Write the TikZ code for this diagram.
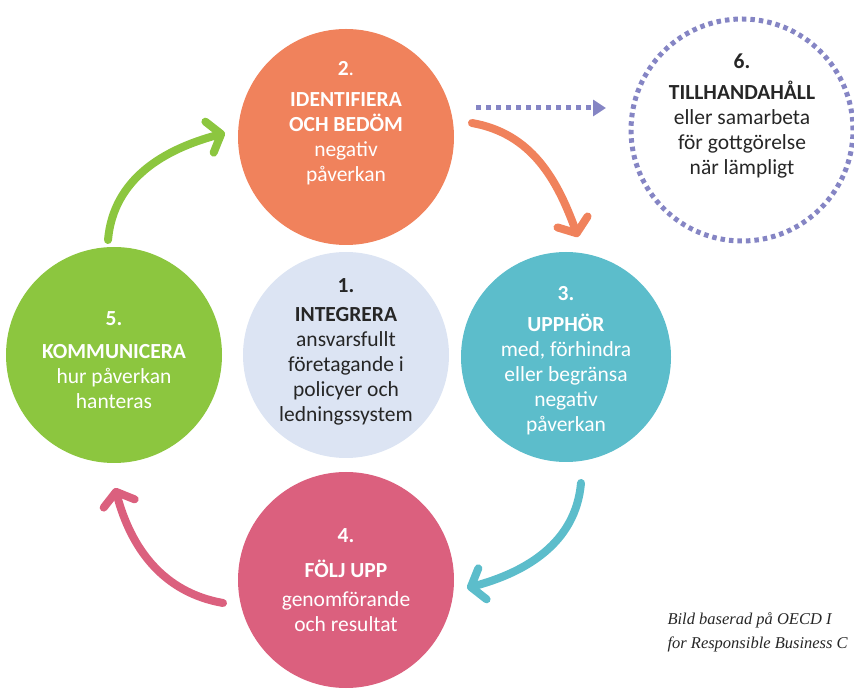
\documentclass[tikz,border=0pt]{standalone}
\usepackage{fontspec}
\setmainfont{Carlito}
\newfontfamily\notefont{Liberation Serif}
\usetikzlibrary{arrows.meta}
\definecolor{orangeC}{HTML}{F0825C}
\definecolor{blueC}{HTML}{DCE4F3}
\definecolor{tealC}{HTML}{5CBDCB}
\definecolor{pinkC}{HTML}{DB607E}
\definecolor{greenC}{HTML}{8CC63F}
\definecolor{purpleC}{HTML}{8585C4}
\definecolor{inkC}{HTML}{262626}
\tikzset{
  disc/.style={circle,minimum size=#1,inner sep=0pt},
  disc/.default=216pt,
  txt/.style={align=center,text=white,font=\fontsize{21.5}{25}\selectfont},
  turn/.style={line width=8pt,line cap=round,
    -{Straight Barb[length=12pt,width=32pt,line cap=round,line join=round]}},
}
\begin{document}
\begin{tikzpicture}[x=1pt,y=1pt]
\useasboundingbox (0,0) rectangle (854,691);
% discs
\node[disc,fill=orangeC] (c2) at (346,554) {};
\node[disc=206pt,fill=blueC] (c1) at (346,336) {};
\node[disc=210pt,fill=tealC] (c3) at (566,334) {};
\node[disc,fill=pinkC] (c4) at (346,111) {};
\node[disc,fill=greenC] (c5) at (114,336) {};
\node[disc=222pt,draw=purpleC,line width=5pt,dash pattern=on 4.5pt off 4pt] (c6) at (742,561) {};
% texts
\node[txt] (t2) at ([yshift=14]c2) {\textbf{2}.\\[6pt]\textbf{IDENTIFIERA}\\\textbf{OCH BEDÖM}\\negativ\\påverkan};
\node[txt,text=inkC] (t1) at ([yshift=3]c1) {\textbf{1.}\\[4pt]\textbf{INTEGRERA}\\ansvarsfullt\\företagande i\\policyer och\\ledningssystem};
\node[txt] (t3) at ([yshift=-4]c3) {\textbf{3.}\\[6pt]\textbf{UPPHÖR}\\med, förhindra\\eller begränsa\\negativ\\påverkan};
\node[txt] (t4) at (c4) {\textbf{4.}\\[10pt]\textbf{FÖLJ UPP}\\[4pt]genomförande\\och resultat};
\node[txt] (t5) at ([yshift=-5]c5) {\textbf{5.}\\[8pt]\textbf{KOMMUNICERA}\\hur påverkan\\hanteras};
\node[txt,text=inkC] (t6) at ([yshift=14]c6) {\textbf{6.}\\[6pt]\textbf{TILLHANDAHÅLL}\\eller samarbeta\\för gottgörelse\\när lämpligt};
% arrow ends
\coordinate (g0) at (108,451); \coordinate (g1) at (225,558);
\coordinate (o0) at (472,568); \coordinate (o1) at (578,454);
\coordinate (b0) at (581,208); \coordinate (b1) at (467,103);
\coordinate (p0) at (223,88);  \coordinate (p1) at (115,203);
\coordinate (d0) at (476,583); \coordinate (d1) at (606,583);
\draw[turn,greenC] (g0) to[out=85,in=195] (g1);
\draw[turn,orangeC] (o0) to[out=-10,in=110] (o1);
\draw[turn,tealC] (b0) to[out=-95,in=15] (b1);
\draw[turn,pinkC] (p0) to[out=170,in=-75] (p1);
\draw[purpleC,line width=5pt,dash pattern=on 5pt off 5pt,
  -{Triangle[length=13pt,width=16pt]}] (d0) -- (d1);
% source note
\node[anchor=base west,align=left,font=\notefont\itshape\fontsize{16.5}{24}\selectfont,text=inkC]
  (note) at (664,43) {Bild baserad på OECD I\\for Responsible Business C};
\end{tikzpicture}
\end{document}
